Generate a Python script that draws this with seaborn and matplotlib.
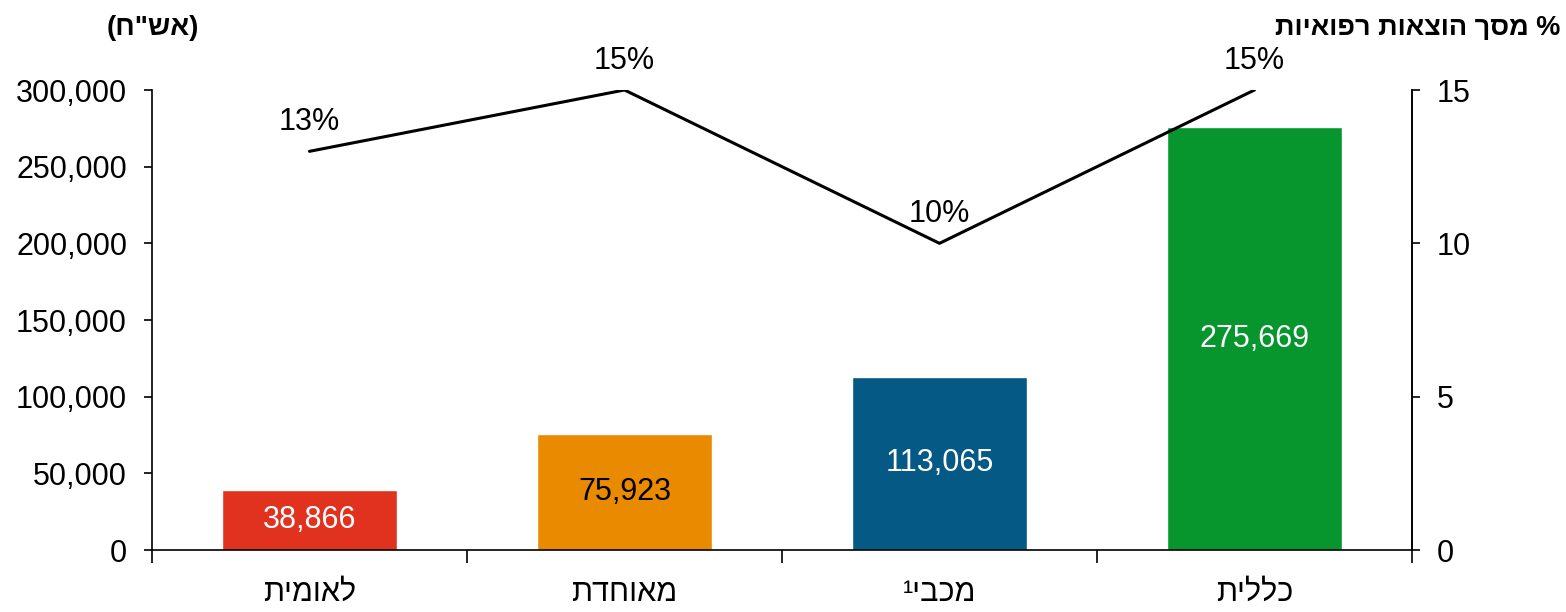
import numpy as np
import pandas as pd
import seaborn as sns
import matplotlib.pyplot as plt
from matplotlib.ticker import FuncFormatter

# Hebrew strings are stored in visual (left-to-right) order, since matplotlib has no bidi support
funds = ["תימואל", "תדחואמ", "¹יבכמ", "תיללכ"]
spending = [38866, 75923, 113065, 275669]   # אש"ח
share_pct = [13, 15, 10, 15]                # % of medical spending
bar_colors = ["#E0321F", "#E98A00", "#045A85", "#06962D"]
label_colors = ["white", "black", "white", "white"]

left_title = '(ח"שא)'
right_title = "תויאופר תואצוה ךסמ %"

sns.set_style("white")
plt.rcParams["font.family"] = ["Liberation Sans", "DejaVu Sans"]
plt.rcParams["text.color"] = "black"
plt.rcParams["xtick.color"] = "black"
plt.rcParams["ytick.color"] = "black"
plt.rcParams["axes.labelcolor"] = "black"

df = pd.DataFrame({"fund": funds, "spending": spending, "pct": share_pct})

fig = plt.figure(figsize=(15.66, 6.12), dpi=100)
ax = fig.add_axes([152 / 1566, 62 / 612, 1260 / 1566, 460 / 612])

sns.barplot(data=df, x="fund", y="spending", hue="fund", palette=bar_colors,
            width=0.555, saturation=1, legend=False, ax=ax)

ax.set_xlim(-0.5, len(funds) - 0.5)
ax.set_ylim(0, 300000)
ax.set_yticks(np.arange(0, 300001, 50000))
ax.yaxis.set_major_formatter(FuncFormatter(lambda v, p: f"{int(v):,}"))
ax.set_xlabel("")
ax.set_ylabel("")

# category boundaries as ticks, labels on minor ticks at centres
ax.set_xticks(np.arange(-0.5, len(funds), 1.0))
ax.set_xticklabels([])
ax.set_xticks(np.arange(len(funds)), minor=True)
ax.set_xticklabels(funds, minor=True, fontsize=22,
                   family=["Liberation Sans Narrow", "Liberation Sans", "DejaVu Sans"])
ax.tick_params(axis="x", which="major", bottom=True, direction="out",
               length=9, width=1.2, color="black")
ax.tick_params(axis="x", which="minor", bottom=True, length=0, pad=20)
ax.tick_params(axis="y", direction="out", length=6, width=1.2, color="black",
               labelsize=22, pad=12, left=True)

ax.spines["top"].set_visible(False)
for side in ["left", "bottom", "right"]:
    ax.spines[side].set_color("black")
    ax.spines[side].set_linewidth(1.2)

for i, (v, c) in enumerate(zip(spending, label_colors)):
    ax.text(i, v / 2, f"{v:,}", ha="center", va="center", color=c, fontsize=22)

ax2 = ax.twinx()
sns.lineplot(x=np.arange(len(funds)), y=share_pct, color="black", linewidth=2.2, ax=ax2)
ax2.set_ylim(0, 15)
ax2.set_yticks([0, 5, 10, 15])
ax2.tick_params(axis="y", direction="out", length=6, width=1.2, color="black",
                labelsize=22, pad=12, right=True)
ax2.spines["top"].set_visible(False)
ax2.spines["right"].set_color("black")
ax2.spines["right"].set_linewidth(1.2)
ax2.spines["left"].set_visible(False)
ax2.spines["bottom"].set_visible(False)

for i, p in enumerate(share_pct):
    ax2.annotate(f"{p}%", (i, p), xytext=(0, 21), textcoords="offset points",
                 ha="center", va="center", fontsize=22)

fig.text(153 / 1566, 1 - 28 / 612, left_title, ha="center", va="center",
         fontsize=20, fontweight="bold")
fig.text(1560 / 1566, 1 - 28 / 612, right_title, ha="right", va="center",
         fontsize=19.5, fontweight="bold")

fig.savefig("out.png", dpi=100)
